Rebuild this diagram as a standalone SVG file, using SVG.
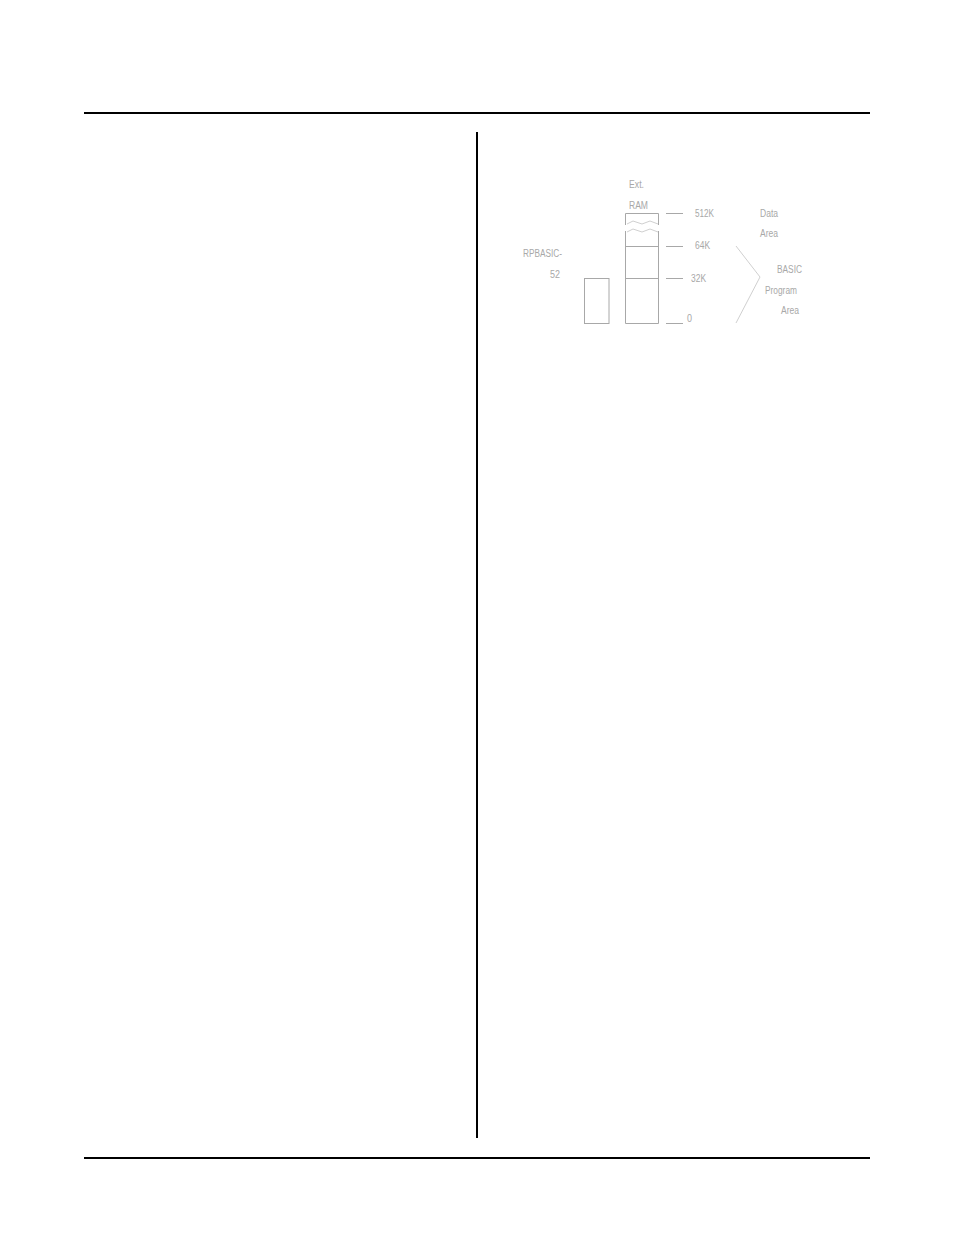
<svg xmlns="http://www.w3.org/2000/svg" width="954" height="1235" viewBox="0 0 954 1235">
<style>
.rule{stroke:#000;stroke-width:2;fill:none}
.ln{stroke:#a8a8a8;stroke-width:1;fill:none}
.lt{stroke:#d0d0d0;stroke-width:1;fill:none}
.t{font-family:"Liberation Sans",Arial,sans-serif;font-size:10px;fill:#a8a8a8}
</style>
<rect width="954" height="1235" fill="#fff"/>
<g id="page-rules">
<line class="rule" x1="84" y1="113" x2="870" y2="113"/>
<line class="rule" x1="477" y1="132" x2="477" y2="1138"/>
<line class="rule" x1="84" y1="1158" x2="870" y2="1158"/>
</g>
<g id="rpbasic">
<rect class="ln" x="584.5" y="278.5" width="24.5" height="45"/>
<text class="t" x="523" y="257" textLength="39" lengthAdjust="spacingAndGlyphs">RPBASIC-</text>
<text class="t" x="550" y="278" textLength="10" lengthAdjust="spacingAndGlyphs">52</text>
</g>
<g id="ext-ram">
<text class="t" x="629" y="188" textLength="15" lengthAdjust="spacingAndGlyphs">Ext.</text>
<text class="t" x="629" y="209" textLength="19" lengthAdjust="spacingAndGlyphs">RAM</text>
<polyline class="ln" points="625.5,225 625.5,213.5 658.5,213.5 658.5,225"/>
<polyline class="lt" points="627,224 633,221 642,224 650,221 658,224"/>
<polyline class="lt" points="627,232 633,229 642,232 650,229 658,232"/>
<polyline class="ln" points="625.5,231 625.5,323.5 658.5,323.5 658.5,231"/>
<line class="ln" x1="625" y1="246.5" x2="658" y2="246.5"/>
<line class="ln" x1="625" y1="278.5" x2="658" y2="278.5"/>
</g>
<g id="scale">
<line class="ln" x1="666" y1="213.5" x2="683" y2="213.5"/>
<line class="ln" x1="666" y1="246.5" x2="683" y2="246.5"/>
<line class="ln" x1="666" y1="278.5" x2="683" y2="278.5"/>
<line class="ln" x1="666" y1="323.5" x2="683" y2="323.5"/>
<text class="t" x="695" y="217" textLength="19" lengthAdjust="spacingAndGlyphs">512K</text>
<text class="t" x="695" y="249" textLength="15" lengthAdjust="spacingAndGlyphs">64K</text>
<text class="t" x="691" y="282" textLength="15" lengthAdjust="spacingAndGlyphs">32K</text>
<text class="t" x="687" y="322" textLength="5" lengthAdjust="spacingAndGlyphs">0</text>
</g>
<g id="areas">
<text class="t" x="760" y="217" textLength="18" lengthAdjust="spacingAndGlyphs">Data</text>
<text class="t" x="760" y="237" textLength="18" lengthAdjust="spacingAndGlyphs">Area</text>
<text class="t" x="777" y="273" textLength="25" lengthAdjust="spacingAndGlyphs">BASIC</text>
<text class="t" x="765" y="294" textLength="32" lengthAdjust="spacingAndGlyphs">Program</text>
<text class="t" x="781" y="314" textLength="18" lengthAdjust="spacingAndGlyphs">Area</text>
</g>
<g id="connectors">
<polyline class="lt" points="736,246 760,277 736,323"/>
</g>
</svg>
